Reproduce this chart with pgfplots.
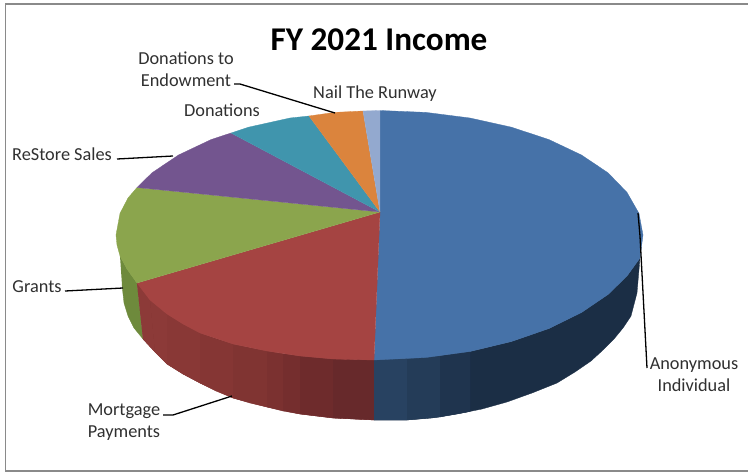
\documentclass[border=0pt]{standalone}
\usepackage{fontspec}
\setmainfont{Carlito}
\usepackage{pgfplots}
\pgfplotsset{compat=1.18}
\definecolor{blueT}{HTML}{4672A8}
\definecolor{redT}{HTML}{A54442}
\definecolor{greenT}{HTML}{8BA54D}
\definecolor{purpT}{HTML}{73558F}
\definecolor{tealT}{HTML}{4095AD}
\definecolor{orangeT}{HTML}{DB843D}
\definecolor{paleT}{HTML}{93A9CF}
\definecolor{greenS}{HTML}{6E8A3C}
\definecolor{frameC}{HTML}{8A8A8A}
\definecolor{txt}{HTML}{303030}
% side wall shades
\definecolor{redA}{RGB}{140,58,56}
\definecolor{redB}{RGB}{137,56,54}
\definecolor{redC}{RGB}{133,54,52}
\definecolor{redD}{RGB}{128,52,50}
\definecolor{redE}{RGB}{123,49,48}
\definecolor{redF}{RGB}{117,46,46}
\definecolor{redG}{RGB}{110,43,44}
\definecolor{redH}{RGB}{103,41,43}
\definecolor{blueA}{RGB}{40,66,97}
\definecolor{blueB}{RGB}{36,60,88}
\definecolor{blueC}{RGB}{31,52,78}
\definecolor{blueD}{RGB}{27,46,69}
\pgfplotsset{
  slice/.style={fill=#1, draw=#1, line width=0.3pt, mark=none, forget plot},
  leader/.style={black, line width=1.3pt, mark=none, forget plot},
}
\begin{document}
\begin{tikzpicture}
\begin{axis}[
    width=748pt, height=472pt, scale only axis,
    xmin=0, xmax=748, ymin=0, ymax=472, y dir=reverse,
    hide axis, clip=true,
]
% page, keeps the bounding box
\addplot[fill=white, draw=none, mark=none, forget plot] coordinates {(0,0) (748,0) (748,472) (0,472)};
% frame
\addplot[frameC, line width=1.3pt, mark=none, forget plot] coordinates {(748,4) (5.5,4) (5.5,471) (748,471)};

% side walls: underlay first, so no seams show between the shades
\addplot[slice=greenS] coordinates {(120,256) (127,269) (137,283) (143,339) (134,328) (128,316) (124,303) (122,285)};
\addplot[slice=redE] coordinates {(137,283) (150,300) (167,314) (183,324) (200,333) (233,344) (267,351) (300,356) (333,359) (374,360) (374,420) (333,418) (300,414) (267,407) (233,398) (200,383) (183,374) (167,364) (155,352) (143,339)};
\addplot[slice=blueD] coordinates {(374,360) (426,357.5) (470,351.5) (511.5,341.5) (549,328.5) (581.5,312.5) (608,294.5) (627,276) (640,258) (637,293) (631,316) (623,328) (614,339) (603,350) (591,361) (575,372) (557,383) (532,393) (507,402) (482,409) (457,414) (432,418) (407,420) (374,420)};

\addplot[slice=redA] coordinates {(137,283) (150,300) (155,352) (143,339)};
\addplot[slice=redA] coordinates {(150,300) (167,314) (167,364) (155,352)};
\addplot[slice=redB] coordinates {(167,314) (183,324) (183,374) (167,364)};
\addplot[slice=redB] coordinates {(183,324) (200,333) (200,383) (183,374)};
\addplot[slice=redC] coordinates {(200,333) (216,339) (216,391) (200,383)};
\addplot[slice=redC] coordinates {(216,339) (233,344) (233,398) (216,391)};
\addplot[slice=redD] coordinates {(233,344) (250,348) (250,403) (233,398)};
\addplot[slice=redD] coordinates {(250,348) (267,351) (267,407) (250,403)};
\addplot[slice=redE] coordinates {(267,351) (283,354) (283,411) (267,407)};
\addplot[slice=redF] coordinates {(283,354) (300,356) (300,414) (283,411)};
\addplot[slice=redG] coordinates {(300,356) (333,359) (333,418) (300,414)};
\addplot[slice=redH] coordinates {(333,359) (374,360) (374,420) (333,418)};
\addplot[slice=blueA] coordinates {(374,360) (407,358.6) (407,420) (374,420)};
\addplot[slice=blueB] coordinates {(407,358.6) (440,356) (440,417) (407,420)};
\addplot[slice=blueC] coordinates {(440,356) (470,351.5) (470,411.5) (440,417)};

% top face
\addplot[slice=blueT] coordinates {(380,212) (380,110.5) (426,112.4) (470,118) (511.5,127.2) (549,139.6) (581.5,155) (608,172.8) (627,192.4) (639,213.4) (643,235) (640,258) (627,276) (608,294.5) (581.5,312.5) (549,328.5) (511.5,341.5) (470,351.5) (426,357.5) (374,360)};
\addplot[slice=redT] coordinates {(380,212) (374,360) (350,359.5) (333,359) (300,356) (267,351) (233,344) (200,333) (183,324) (167,314) (150,300) (137,283)};
\addplot[slice=greenT] coordinates {(380,212) (137,283) (127,269) (120,256) (117,245) (116,235) (120,213.4) (128,198) (137,187.5)};
\addplot[slice=purpT] coordinates {(380,212) (137,187.5) (152,172.8) (178.5,155) (211,139.6) (231,133)};
\addplot[slice=tealT] coordinates {(380,212) (231,133) (248.5,127.2) (290,118) (309,116)};
\addplot[slice=orangeT] coordinates {(380,212) (309,116) (334.3,112.4) (363,111)};
\addplot[slice=paleT] coordinates {(380,212) (363,111) (380,110.5)};

% leaders
\addplot[leader] coordinates {(234,84) (240,84) (335,113)};
\addplot[leader] coordinates {(117,159) (173,156)};
\addplot[leader] coordinates {(65,291) (123,288)};
\addplot[leader] coordinates {(163,415) (173,415) (232,396)};
\addplot[leader] coordinates {(638,213) (640,236) (647,368)};

% texts
\node[font=\fontsize{33.2}{36}\selectfont\bfseries] at (axis cs:379,40) {FY 2021 Income};
\begin{scope}[every node/.style={font=\fontsize{18.3}{22}\selectfont, text=txt, inner sep=0pt, align=center}]
\node at (axis cs:186,69.5) {Donations to\\Endowment};
\node at (axis cs:222,110) {Donations};
\node at (axis cs:375,93.5) {Nail The Runway};
\node at (axis cs:62,154) {ReStore Sales};
\node at (axis cs:37,287) {Grants};
\node at (axis cs:124,422) {Mortgage\\Payments};
\node at (axis cs:694,375) {Anonymous\\Individual};
\end{scope}
\end{axis}
\end{tikzpicture}
\end{document}
